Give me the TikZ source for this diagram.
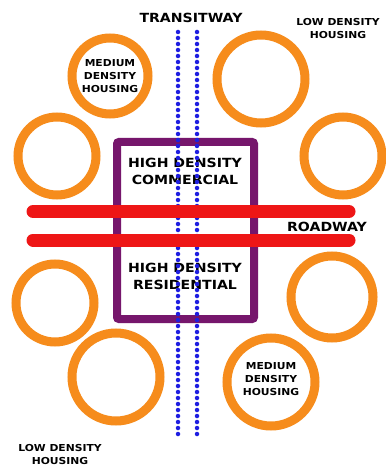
\documentclass[tikz,border=0pt]{standalone}
\usepackage{fontspec}
\setmainfont{DejaVu Sans}
\newfontfamily\widefont[FakeStretch=1.12]{DejaVu Sans}
\definecolor{ringorange}{RGB}{246,140,28}
\definecolor{boxpurple}{RGB}{118,22,108}
\definecolor{roadred}{RGB}{238,22,22}
\definecolor{transitblue}{RGB}{30,30,225}
\begin{document}
\begin{tikzpicture}[x=1pt,y=-1pt,
  ring/.style={draw=ringorange,line width=9pt,circle,inner sep=0pt},
  lbl/.style={font=\widefont\bfseries\fontsize{9.6}{13}\selectfont,align=center,text=black},
  biglbl/.style={font=\widefont\bfseries\fontsize{12.6}{17}\selectfont,align=center,text=black},
  road/.style={draw=roadred,line width=13pt,line cap=round},
  rail/.style={draw=transitblue,line width=4.5pt,line cap=round,dash pattern=on 0pt off 6pt},
  hub/.style={draw=boxpurple,line width=8pt,rounded corners=2pt}]
\useasboundingbox (0,0) rectangle (385,465);
\fill[white] (0,0) rectangle (385,465);
% rings
\node[ring,minimum size=76pt] (r1) at (110,76) {};
\node[ring,minimum size=88pt] (r2) at (261,79) {};
\node[ring,minimum size=78pt] (r3) at (57,156) {};
\node[ring,minimum size=78pt] (r4) at (343,156) {};
\node[ring,minimum size=78pt] (r5) at (55,303) {};
\node[ring,minimum size=82pt] (r6) at (332,297) {};
\node[ring,minimum size=88pt] (r7) at (116,377) {};
\node[ring,minimum size=88pt] (r8) at (271,382) {};
% hub box
\node[hub,minimum width=137pt,minimum height=177pt] (hub) at (185.5,230.5) {};
\node[biglbl] (comm) at (185,171) {HIGH DENSITY\\COMMERCIAL};
\node[biglbl] (resi) at (185,276) {HIGH DENSITY\\RESIDENTIAL};
% transit rails
\coordinate (ta) at (178,32); \coordinate (tb) at (178,434);
\coordinate (tc) at (197,32); \coordinate (td) at (197,434);
\draw[rail] (ta) -- (tb);
\draw[rail] (tc) -- (td);
% roads
\coordinate (ra1) at (33,211.5); \coordinate (rb1) at (349,211.5);
\coordinate (ra2) at (33,240); \coordinate (rb2) at (349,240);
\draw[road] (ra1) -- (rb1);
\draw[road] (ra2) -- (rb2);
% labels
\node[biglbl] (transit) at (191,18) {TRANSITWAY};
\node[lbl] (lowtr) at (338,29) {LOW DENSITY\\HOUSING};
\node[lbl] (medtl) at (110,76) {MEDIUM\\DENSITY\\HOUSING};
\node[biglbl] (roadway) at (327,227) {ROADWAY};
\node[lbl] (medbr) at (271,379) {MEDIUM\\DENSITY\\HOUSING};
\node[lbl] (lowbl) at (60,454) {LOW DENSITY\\HOUSING};
\end{tikzpicture}
\end{document}
